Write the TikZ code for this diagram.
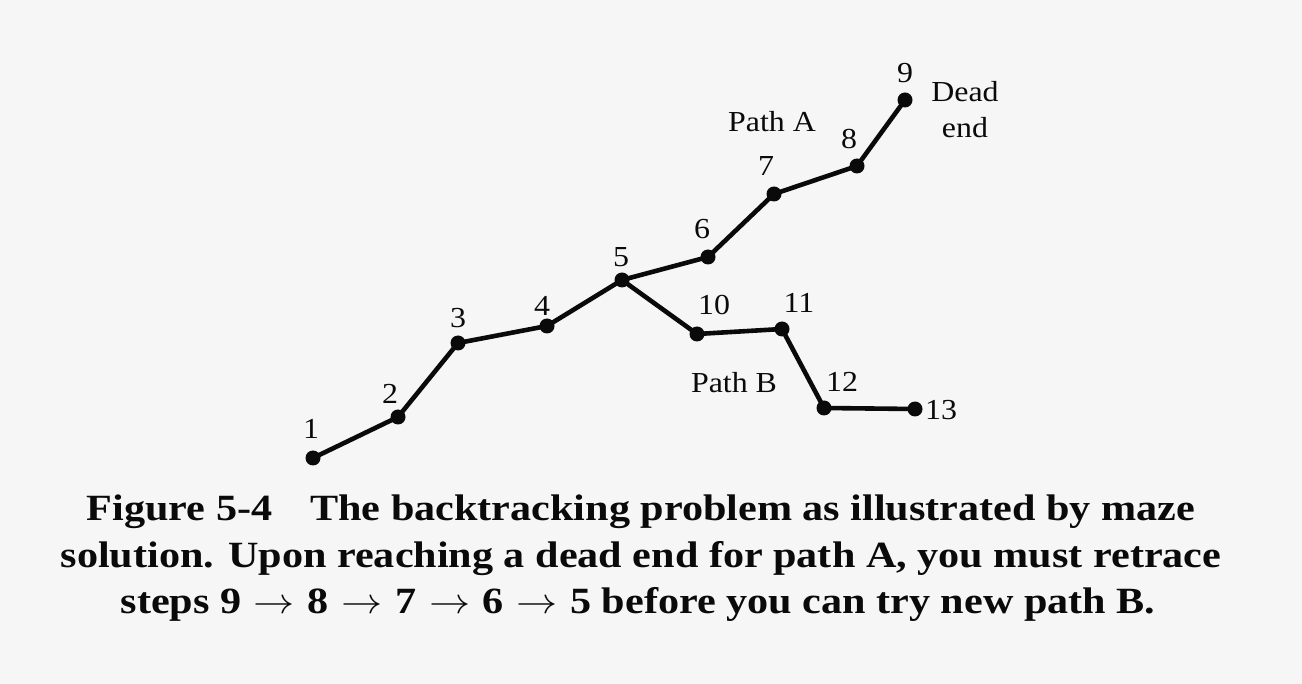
\documentclass[tikz,border=0pt]{standalone}
\usepackage{fontspec}
\usepackage{graphicx}
\setmainfont{Liberation Serif}
\usetikzlibrary{positioning}
\definecolor{paper}{RGB}{246,246,246}
\definecolor{ink}{RGB}{10,10,10}
\newcommand{\steparrow}{\hspace{0.3em}\scalebox{1.45}{$\rightarrow$}\hspace{0.3em}}

\tikzset{
  stepdot/.style={circle, fill=ink, inner sep=0pt, minimum size=15pt},
  steplabel/.style={font=\fontsize{29}{31}\selectfont, text=ink, inner sep=0pt, xscale=1.1},
  pathline/.style={draw=ink, line width=4.6pt, line join=round},
  captionline/.style={font=\fontsize{37}{40}\selectfont\bfseries, text=ink, inner sep=0pt, anchor=base, xscale=1.14}
}

\begin{document}
\begin{tikzpicture}[x=1pt, y=-1pt]
  % Page
  \fill[paper] (0,0) rectangle (1302,684);
  \useasboundingbox (0,0) rectangle (1302,684);

  % Maze steps
  \foreach \n/\px/\py in {1/313/458, 2/398/417, 3/458/343, 4/547/326, 5/622/280,
                          6/708/257, 7/774/194, 8/857/166, 9/905/100,
                          10/697/334, 11/782/329, 12/824/408, 13/915/409} {
    \node[stepdot] (s\n) at (\px,\py) {};
  }

  % Path A and path B
  \draw[pathline] (s1.center) -- (s2.center) -- (s3.center) -- (s4.center) -- (s5.center)
    -- (s6.center) -- (s7.center) -- (s8.center) -- (s9.center);
  \draw[pathline] (s5.center) -- (s10.center) -- (s11.center) -- (s12.center) -- (s13.center);

  % Step numbers
  \foreach \n/\px/\py in {1/311/429, 2/390/394, 3/458/318, 4/542/306, 5/621/257,
                          6/702/229, 7/766/166, 8/849/139, 9/905/73,
                          10/714/305, 11/799/303, 12/842/382, 13/941/410} {
    \node[steplabel] (l\n) at (\px,\py) {\n};
  }

  % Path names
  \node[steplabel] (pathA) at (772,122) {Path A};
  \node[steplabel] (pathB) at (734,383) {Path B};
  \node[steplabel, align=center, font=\fontsize{29}{36}\selectfont] (dead) at (965,110) {Dead\\end};

  % Caption
  \node[captionline] (cap1) at (641,520) {Figure 5-4\hspace{0.9em}The backtracking problem as illustrated by maze};
  \node[captionline] (cap2) at (641,567) {solution. Upon reaching a dead end for path A, you must retrace};
  \node[captionline] (cap3) at (638,613) {steps 9\steparrow 8\steparrow 7\steparrow 6\steparrow 5 before you can try new path B.};
\end{tikzpicture}
\end{document}
